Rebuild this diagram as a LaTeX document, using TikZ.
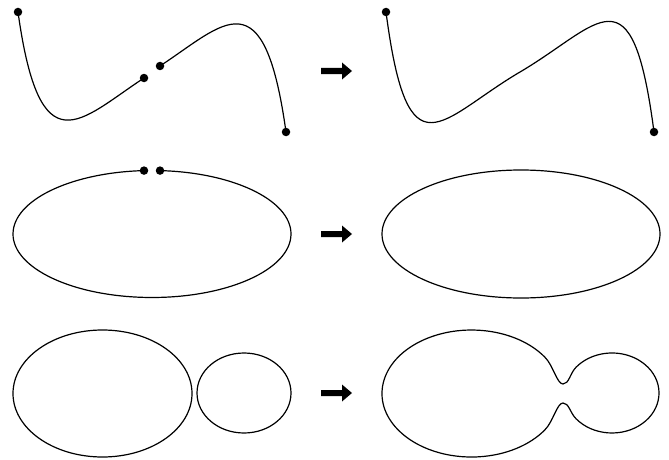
\documentclass[tikz,border=0pt]{standalone}
\begin{document}
\begin{tikzpicture}[x=1pt,y=-1pt,
  curve/.style={line width=1.2pt,black},
  dot/.style={circle,fill=black,inner sep=0pt,minimum size=8.5pt},
  fatarrow/.style={fill=black,draw=none}]
\useasboundingbox (0,0) rectangle (669,460);
% ---------- row 1 left: two curves with end dots
\node[dot] (a1) at (18,12) {};
\node[dot] (a2) at (144,78) {};
\node[dot] (a3) at (160,66) {};
\node[dot] (a4) at (286,132) {};
\draw[curve] (a1.center) .. controls (40,170) and (80,120) .. (a2.center);
\draw[curve] (a3.center) .. controls (224,24) and (264,-26) .. (a4.center);
% ---------- row 1 right: joined curve
\node[dot] (b1) at (386,12) {};
\coordinate (bm) at (520,72);
\node[dot] (b4) at (654,132) {};
\draw[curve] (b1.center) .. controls (408,180) and (440,119) .. (bm)
  .. controls (600,25) and (632,-36) .. (b4.center);
% ---------- arrows
\foreach \yy in {71,234,393}{
  \fill[fatarrow] (321,\yy-3) -- (342,\yy-3) -- (342,\yy-8.5) -- (352,\yy)
    -- (342,\yy+8.5) -- (342,\yy+3) -- (321,\yy+3) -- cycle;
}
% ---------- row 2 left: open ellipse with two dots
\node[dot] (c1) at (144,170.6) {};
\node[dot] (c2) at (160,170.6) {};
\draw[curve] (c2.center) arc[start angle=-86.7,end angle=266.7,x radius=139,y radius=63.5];
% ---------- row 2 right: closed ellipse
\coordinate (d0) at (521,234);
\draw[curve] (d0) ellipse[x radius=139,y radius=64];
% ---------- row 3 left: ellipse and circle
\coordinate (e0) at (102.5,393.5);
\coordinate (f0) at (244,393);
\draw[curve] (e0) ellipse[x radius=89.5,y radius=63.5];
\draw[curve] (f0) ellipse[x radius=47,y radius=40];
% ---------- row 3 right: merged shape
\coordinate (g1) at (544.8,357.1);
\coordinate (g2) at (563,403);
\coordinate (g3) at (576,418.7);
\coordinate (g4) at (563,384);
\draw[curve] (g1) arc[start angle=-35,end angle=-325,x radius=89.5,y radius=63.5]
  .. controls (553,422) and (557,403) .. (g2)
  .. controls (569,403) and (570,412.7) .. (g3)
  arc[start angle=140,end angle=-140,x radius=47,y radius=40]
  .. controls (570,373.3) and (569,384) .. (g4)
  .. controls (557,384) and (553,365) .. (g1) -- cycle;
\end{tikzpicture}
\end{document}
